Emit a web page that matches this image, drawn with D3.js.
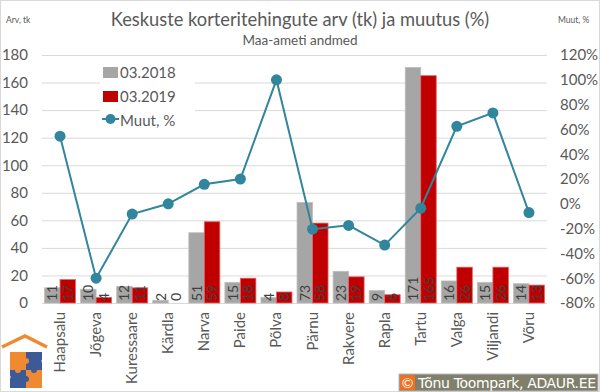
<!DOCTYPE html>
<html><head><meta charset="utf-8">
<script src="https://cdn.jsdelivr.net/npm/d3@7"></script>
<style>body{margin:0;background:#fff}svg{display:block}text{font-family:Lato,"Open Sans",sans-serif}</style>
</head><body>
<svg id="c" width="600" height="392"></svg>
<script>
const categories = ["Haapsalu","Jõgeva","Kuressaare","Kärdla","Narva","Paide","Põlva","Pärnu","Rakvere","Rapla","Tartu","Valga","Viljandi","Võru"];
const values2018 = [11,10,12,2,51,15,4,73,23,9,171,16,15,14];
const values2019 = [17,4,11,0,59,18,8,58,19,6,165,26,26,13];
const changePct = [54.5,-60,-8.3,0,15.7,20,100,-20.5,-17.4,-33.3,-3.5,62.5,73.3,-7.1];
const leftTicks = [0,20,40,60,80,100,120,140,160,180];
const rightTicks = [-80,-60,-40,-20,0,20,40,60,80,100,120];

const svg = d3.select("#c");
const L = 42, R = 547, T = 55, B = 303;
const txt = "#595959";

svg.append("rect").attr("x",0.5).attr("y",0.5).attr("width",599).attr("height",391).attr("fill","#fff").attr("stroke","#d9d9d9");

const x = d3.scaleBand().domain(categories).range([L,R]).paddingInner(0).paddingOuter(0);
const yL = d3.scaleLinear().domain([0,180]).range([B,T]);
const yR = d3.scaleLinear().domain([-80,120]).range([B,T]);

// gridlines
svg.append("g").selectAll("line").data(leftTicks).join("line")
  .attr("x1",L).attr("x2",R).attr("y1",d=>yL(d)+0.5).attr("y2",d=>yL(d)+0.5)
  .attr("stroke","#d9d9d9").attr("stroke-width",1);

// left axis
const gl = svg.append("g").attr("transform",`translate(${L-14},0)`)
  .call(d3.axisLeft(yL).tickValues(leftTicks).tickSize(0).tickPadding(0));
gl.select(".domain").remove();
gl.selectAll("text").attr("fill",txt).style("font-size","15px").style("font-family","Lato,sans-serif");

// right axis
const gr = svg.append("g").attr("transform",`translate(${R+13},0)`)
  .call(d3.axisRight(yR).tickValues(rightTicks).tickSize(0).tickPadding(0).tickFormat(d=>d+"%"));
gr.select(".domain").remove();
gr.selectAll("text").attr("fill",txt).style("font-size","15px").style("font-family","Lato,sans-serif");

// bars
const bw = 15.5;
const bx = d => x(d) + x.bandwidth()/2;
const g = svg.append("g");
g.selectAll("rect.a").data(categories).join("rect").attr("class","a")
  .attr("x",(d)=>bx(d)-bw).attr("width",bw)
  .attr("y",(d,i)=>yL(values2018[i])).attr("height",(d,i)=>B-yL(values2018[i]))
  .attr("fill","#a6a6a6").attr("stroke","#bfbfbf").attr("stroke-width",0.8);
g.selectAll("rect.b").data(categories).join("rect").attr("class","b")
  .attr("x",(d)=>bx(d)).attr("width",bw)
  .attr("y",(d,i)=>yL(values2019[i])).attr("height",(d,i)=>B-yL(values2019[i]))
  .attr("fill","#c00000").attr("stroke","#e06666").attr("stroke-width",0.8);

// bar labels
const lab = (arr, off) => g.selectAll(null).data(categories).join("text")
  .attr("transform",(d)=>`translate(${bx(d)+off},${B-2}) rotate(-90)`)
  .attr("text-anchor","start").attr("fill","#404040").style("font-size","14px")
  .text((d,i)=>arr[i]);
lab(values2018,-bw/2+5);
lab(values2019,bw/2+5);

// line
const line = d3.line().x(d=>bx(d)).y((d,i)=>yR(changePct[i]));
svg.append("path").datum(categories).attr("d",line).attr("fill","none")
  .attr("stroke","#31859c").attr("stroke-width",2);
svg.append("g").selectAll("circle").data(categories).join("circle")
  .attr("cx",d=>bx(d)).attr("cy",(d,i)=>yR(changePct[i])).attr("r",5.5).attr("fill","#31859c");

// category labels
svg.append("g").selectAll("text").data(categories).join("text")
  .attr("transform",d=>`translate(${bx(d)+5},${B+9}) rotate(-90)`)
  .attr("text-anchor","end").attr("fill",txt).style("font-size","15px").text(d=>d);

// legend
const lg = svg.append("g");
lg.append("rect").attr("x",100).attr("y",60).attr("width",95).attr("height",70).attr("fill","#fff");
lg.append("rect").attr("x",103).attr("y",67).attr("width",15).attr("height",11).attr("fill","#a6a6a6");
lg.append("rect").attr("x",103).attr("y",91).attr("width",15).attr("height",11).attr("fill","#c00000");
lg.append("line").attr("x1",102).attr("x2",119).attr("y1",119).attr("y2",119).attr("stroke","#31859c").attr("stroke-width",2);
lg.append("circle").attr("cx",110.5).attr("cy",119).attr("r",5).attr("fill","#31859c");
[["03.2018",78],["03.2019",102],["Muut, %",126]].forEach(([t,y])=>{
  lg.append("text").attr("x",120).attr("y",y).attr("fill",txt).style("font-size","15px").text(t);
});

// titles
svg.append("text").attr("x",300).attr("y",26).attr("text-anchor","middle").attr("fill",txt)
  .style("font-size","18.3px").text("Keskuste korteritehingute arv (tk) ja muutus (%)");
svg.append("text").attr("x",300).attr("y",45).attr("text-anchor","middle").attr("fill",txt)
  .style("font-size","13.5px").text("Maa-ameti andmed");
svg.append("text").attr("x",6).attr("y",23).attr("fill",txt).style("font-size","8.5px").text("Arv, tk");
svg.append("text").attr("x",558).attr("y",23).attr("fill",txt).style("font-size","8.5px").text("Muut, %");

// logo
const lo = svg.append("g");
lo.append("path").attr("d","M2,347 L25,336 L47,347").attr("fill","none").attr("stroke","#f08a30").attr("stroke-width",3.5);
lo.append("rect").attr("x",10).attr("y",352).attr("width",16).attr("height",18).attr("fill","#f08a30");
lo.append("rect").attr("x",26).attr("y",352).attr("width",16).attr("height",18).attr("fill","#3d5a98");
lo.append("rect").attr("x",10).attr("y",370).attr("width",16).attr("height",18).attr("fill","#3d5a98");
lo.append("rect").attr("x",26).attr("y",370).attr("width",16).attr("height",18).attr("fill","#f08a30");
lo.append("circle").attr("cx",26).attr("cy",361).attr("r",3).attr("fill","#f08a30");
lo.append("circle").attr("cx",34).attr("cy",370).attr("r",3).attr("fill","#3d5a98");
lo.append("circle").attr("cx",18).attr("cy",370).attr("r",3).attr("fill","#f08a30");
lo.append("circle").attr("cx",26).attr("cy",379).attr("r",3).attr("fill","#3d5a98");
lo.append("circle").attr("cx",8).attr("cy",377).attr("r",2.5).attr("fill","#fff");
lo.append("circle").attr("cx",44).attr("cy",361).attr("r",2.5).attr("fill","#fff");

// copyright
const cp = svg.append("g");
cp.append("rect").attr("x",399).attr("y",374).attr("width",199).attr("height",17).attr("fill","#7f7f6b").attr("stroke","#bbb");
cp.append("rect").attr("x",400).attr("y",375).attr("width",15).attr("height",15).attr("fill","#f07020");
cp.append("text").attr("x",407.5).attr("y",387.5).attr("text-anchor","middle").attr("fill","#fff").style("font-size","14px").text("©");
cp.append("text").attr("x",418).attr("y",388).attr("fill","#fff").style("font-size","14px").style("font-family","DejaVu Sans, sans-serif")
  .attr("textLength",178).text("Tõnu Toompark, ADAUR.EE");
</script>
</body></html>
